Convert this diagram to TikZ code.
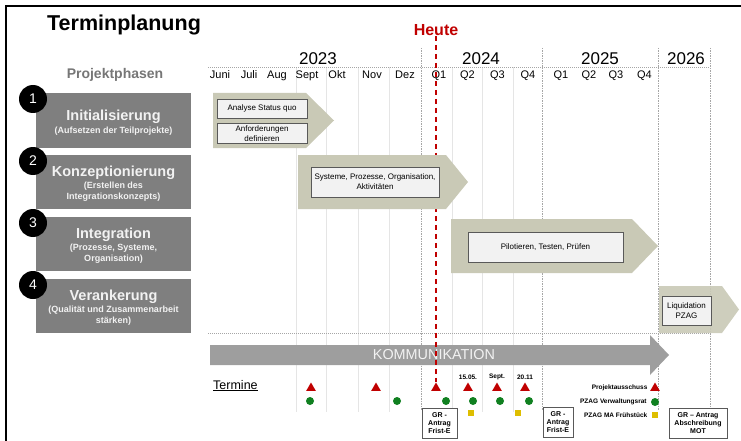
\documentclass[tikz,border=0pt]{standalone}
\usepackage{fontspec}
\setmainfont{Liberation Sans}
\usetikzlibrary{positioning, shapes.geometric}

\definecolor{phasegray}{RGB}{127,127,127}
\definecolor{phasetext}{RGB}{242,242,242}
\definecolor{khaki}{RGB}{201,201,182}
\definecolor{boxfill}{RGB}{242,242,242}
\definecolor{boxline}{RGB}{89,89,89}
\definecolor{kommgray}{RGB}{158,158,158}
\definecolor{heutered}{RGB}{192,0,0}
\definecolor{termgreen}{RGB}{16,128,32}
\definecolor{termyellow}{RGB}{222,190,0}
\definecolor{labelgray}{RGB}{118,118,118}

\begin{document}
\begin{tikzpicture}[
    x=1pt, y=-1pt,
    phase/.style={rectangle, fill=phasegray, minimum width=155pt, minimum height=54pt, inner sep=0pt},
    phasetitle/.style={text=phasetext, font=\fontsize{14.5}{16}\selectfont\bfseries, anchor=base, inner sep=0pt},
    phasesub/.style={text=phasetext, font=\fontsize{9}{11}\selectfont\bfseries, align=center, inner sep=0pt},
    numcircle/.style={circle, fill=black, text=white, minimum size=28pt, inner sep=0pt, font=\fontsize{14}{14}\selectfont},
    task/.style={rectangle, draw=boxline, fill=boxfill, line width=0.6pt, font=\fontsize{8}{10}\selectfont, align=center, inner sep=0pt},
    month/.style={font=\fontsize{11}{12}\selectfont, anchor=base, inner sep=0pt},
    year/.style={font=\fontsize{17}{18}\selectfont, anchor=base, inner sep=0pt},
    redtri/.style={regular polygon, regular polygon sides=3, fill=heutered, minimum size=11pt, inner sep=0pt},
    greendot/.style={circle, fill=termgreen, minimum size=8pt, inner sep=0pt},
    yellowsq/.style={rectangle, fill=termyellow, minimum size=6.5pt, inner sep=0pt},
    smalltext/.style={font=\fontsize{6.5}{8}\selectfont\bfseries, inner sep=0pt},
    grbox/.style={rectangle, draw=boxline, fill=white, line width=0.6pt, font=\fontsize{7}{8}\selectfont\bfseries, align=center, inner sep=0pt, minimum height=30pt},
    monthline/.style={gray!20, line width=0.5pt},
    yearline/.style={gray!70, line width=0.6pt, dash pattern=on 1.5pt off 1pt},
    dotline/.style={gray!70, line width=0.6pt, dash pattern=on 1pt off 1pt}
]
\useasboundingbox (0,0) rectangle (741,441);

% Frame
\draw[line width=2pt] (6,441) -- (6,6) -- (741,6);

% Title
\node[anchor=base west, inner sep=0pt, font=\fontsize{21.5}{24}\selectfont\bfseries] (title) at (47,31) {Terminplanung};
\node[anchor=base, inner sep=0pt, text=labelgray, font=\fontsize{14}{16}\selectfont\bfseries] (phasen) at (115,79) {Projektphasen};

% Timeline grid
\draw[monthline] (296,67) -- (296,412) (326,67) -- (326,412) (358,67) -- (358,412) (389,67) -- (389,412)
    (452,67) -- (452,412) (482,67) -- (482,412) (513,67) -- (513,412);
\draw[yearline] (421,48) -- (421,410) (542,48) -- (542,410) (658,48) -- (658,410) (710,48) -- (710,410);
\draw[dotline] (208,67) -- (710,67);
\draw[dotline] (208,333) -- (710,333);

% Years
\node[year] (y2023) at (318,65) {2023};
\node[year] (y2024) at (481,65) {2024};
\node[year] (y2025) at (600,65) {2025};
\node[year] (y2026) at (686,65) {2026};

% Months and quarters
\node[month] (m1) at (220,79) {Juni};
\node[month] (m2) at (249,79) {Juli};
\node[month] (m3) at (277,79) {Aug};
\node[month] (m4) at (307,79) {Sept};
\node[month] (m5) at (337,79) {Okt};
\node[month] (m6) at (372,79) {Nov};
\node[month] (m7) at (405,79) {Dez};
\node[month] (q1a) at (439,79) {Q1};
\node[month] (q2a) at (467.5,79) {Q2};
\node[month] (q3a) at (497.5,79) {Q3};
\node[month] (q4a) at (528,79) {Q4};
\node[month] (q1b) at (561,79) {Q1};
\node[month] (q2b) at (589,79) {Q2};
\node[month] (q3b) at (616,79) {Q3};
\node[month] (q4b) at (644.5,79) {Q4};

% Kommunikation
\fill[kommgray] (210,345) -- (650,345) -- (650,335) -- (669,355) -- (650,375) -- (650,365) -- (210,365) -- cycle;
\node[text=phasetext, font=\fontsize{14.4}{16}\selectfont, inner sep=0pt] (komm) at (434,355) {KOMMUNIKATION};

% Termine
\node[anchor=base west, inner sep=0pt, font=\fontsize{12.5}{14}\selectfont] (termine) at (213,389) {\underline{Termine}};

\node[redtri] (t1) at (311,388) {};
\node[redtri] (t2) at (376,388) {};
\node[redtri] (t3) at (436,388) {};
\node[redtri] (t4) at (468,388) {};
\node[redtri] (t5) at (497,388) {};
\node[redtri] (t6) at (525,388) {};

\node[greendot] (g1) at (310,401) {};
\node[greendot] (g2) at (397,401) {};
\node[greendot] (g3) at (446,401) {};
\node[greendot] (g4) at (473,401) {};
\node[greendot] (g5) at (500,401) {};
\node[greendot] (g6) at (529,401) {};

\node[yellowsq] (s1) at (471,413) {};
\node[yellowsq] (s2) at (518,413) {};

\node[smalltext, above=2pt of t4] (d1) {15.05.};
\node[smalltext, above=2pt of t5] (d2) {Sept.};
\node[smalltext, above=2pt of t6] (d3) {20.11};

% Heute
\node[text=heutered, font=\fontsize{16}{18}\selectfont\bfseries, inner sep=0pt] (heute) at (436,30) {Heute};
\draw[heutered, line width=1.8pt, dash pattern=on 5pt off 4pt] (heute.south) -- (heute.south |- t3.north);

% Legend
\node[redtri] (lt) at (655,388) {};
\node[greendot] (lg) at (655,402) {};
\node[yellowsq] (ls) at (655,415) {};
\node[smalltext, left=4pt of lt] (ltext) {Projektausschuss};
\node[smalltext, left=4pt of lg] (lgtext) {PZAG Verwaltungsrat};
\node[smalltext, left=4pt of ls] (lstext) {PZAG MA Frühstück};

% GR boxes
\node[grbox, minimum width=35pt] (gr1) at (439.5,423) {GR -\\Antrag\\Frist-E};
\node[grbox, minimum width=30pt] (gr2) at (558,422) {GR -\\Antrag\\Frist-E};
\node[grbox, minimum width=58pt] (gr3) at (698,423.5) {GR -- Antrag\\Abschreibung\\MOT};

% Phases
\node[phase] (ph1) at (113.5,120.5) {};
\node[phase] (ph2) at (113.5,181.5) {};
\node[phase] (ph3) at (113.5,243.5) {};
\node[phase] (ph4) at (113.5,305.5) {};

\node[phasetitle] (ph1t) at (113.5,121) {Initialisierung};
\node[phasesub, below=2.5pt of ph1t] (ph1s) {(Aufsetzen der Teilprojekte)};
\node[phasetitle] (ph2t) at (113.5,176) {Konzeptionierung};
\node[phasesub, below=2.5pt of ph2t] (ph2s) {(Erstellen des\\Integrationskonzepts)};
\node[phasetitle] (ph3t) at (113.5,238) {Integration};
\node[phasesub, below=2.5pt of ph3t] (ph3s) {(Prozesse, Systeme,\\Organisation)};
\node[phasetitle] (ph4t) at (113.5,300) {Verankerung};
\node[phasesub, below=2.5pt of ph4t] (ph4s) {(Qualität und Zusammenarbeit\\stärken)};

\node[numcircle] (n1) at (33,99) {1};
\node[numcircle] (n2) at (33,161) {2};
\node[numcircle] (n3) at (33,223) {3};
\node[numcircle] (n4) at (33,285) {4};

% Phase arrows
\fill[khaki] (213,93) -- (306,93) -- (334,120.5) -- (306,148) -- (213,148) -- cycle;
\fill[khaki] (298,155) -- (446,155) -- (468,182) -- (446,209) -- (298,209) -- cycle;
\fill[khaki] (451,219) -- (632,219) -- (658,246) -- (632,273) -- (451,273) -- cycle;
\fill[khaki, fill opacity=0.9] (659,286) -- (722,286) -- (739,309.5) -- (722,333) -- (659,333) -- cycle;

\node[task, minimum width=90pt, minimum height=19pt] (analyse) at (262,108.5) {Analyse Status quo};
\node[task, minimum width=90pt, minimum height=20pt, below=5pt of analyse] (anford) {Anforderungen\\definieren};
\node[task, minimum width=128pt, minimum height=30pt] (systeme) at (375,182) {Systeme, Prozesse, Organisation,\\Aktivitäten};
\node[task, minimum width=155pt, minimum height=30pt] (pilot) at (545.5,247) {Pilotieren, Testen, Prüfen};
\node[task, minimum width=49pt, minimum height=29pt] (liquid) at (686.5,310.5) {Liquidation\\PZAG};

\end{tikzpicture}
\end{document}
